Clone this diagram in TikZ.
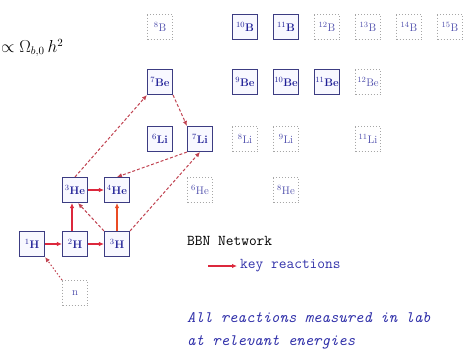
\documentclass[tikz,border=0pt]{standalone}
\usetikzlibrary{arrows.meta}
\definecolor{boxdraw}{RGB}{60,60,130}
\definecolor{boxtext}{RGB}{30,30,150}
\definecolor{txtblue}{RGB}{50,50,170}
\definecolor{keyred}{RGB}{220,40,60}
\definecolor{boxfill}{RGB}{248,248,255}
\begin{document}
\begin{tikzpicture}[x=1pt,y=-1pt,
  nuc/.style={draw=boxdraw,line width=1.1pt,fill=boxfill,minimum width=25pt,minimum height=25pt,inner sep=0pt,text=boxtext,font=\fontsize{11}{11}\selectfont\bfseries},
  unst/.style={draw=gray!70,dotted,line width=1pt,fill=white,minimum width=25pt,minimum height=25pt,inner sep=0pt,text=boxtext!80,font=\fontsize{11}{11}\selectfont},
  keyarr/.style={-{Latex[length=5pt,width=4.5pt]},draw=keyred,line width=1.4pt},
  longarr/.style={-{Latex[length=5pt,width=4.5pt]},draw=keyred!70!gray,line width=1pt,dash pattern=on 3pt off 2pt},
  legtxt/.style={anchor=west,inner sep=0pt,font=\ttfamily\fontsize{15}{15}\selectfont}
]
\useasboundingbox (0,0) rectangle (466,359);
% formula
\node[anchor=west,inner sep=0pt,font=\fontsize{16}{16}\selectfont] (form) at (1,48) {$\propto\Omega_{b,0}\,h^2$};
% Z=1
\node[nuc] (H1) at (32,244) {$^{1}$H};
\node[nuc] (H2) at (75,244) {$^{2}$H};
\node[nuc] (H3) at (117,244) {$^{3}$H};
\node[unst] (n) at (75,293) {n};
% Z=2
\node[nuc] (He3) at (75,190) {$^{3}$He};
\node[nuc] (He4) at (117,190) {$^{4}$He};
\node[unst] (He6) at (200,190) {$^{6}$He};
\node[unst] (He8) at (286,190) {$^{8}$He};
% Z=3
\node[nuc] (Li6) at (160,139) {$^{6}$Li};
\node[nuc] (Li7) at (200,139) {$^{7}$Li};
\node[unst] (Li8) at (245,139) {$^{8}$Li};
\node[unst] (Li9) at (286,139) {$^{9}$Li};
\node[unst] (Li11) at (368,139) {$^{11}$Li};
% Z=4
\node[nuc] (Be7) at (160,82) {$^{7}$Be};
\node[nuc] (Be9) at (245,82) {$^{9}$Be};
\node[nuc] (Be10) at (286,82) {$^{10}$Be};
\node[nuc] (Be11) at (327,82) {$^{11}$Be};
\node[unst] (Be12) at (368,82) {$^{12}$Be};
% Z=5
\node[unst] (B8) at (160,27) {$^{8}$B};
\node[nuc] (B10) at (245,27) {$^{10}$B};
\node[nuc] (B11) at (286,27) {$^{11}$B};
\node[unst] (B12) at (327,27) {$^{12}$B};
\node[unst] (B13) at (368,27) {$^{13}$B};
\node[unst] (B14) at (409,27) {$^{14}$B};
\node[unst] (B15) at (450,27) {$^{15}$B};
% key reactions
\draw[longarr,dash pattern=on 1.5pt off 2pt] (n.north west) -- (H1.south east);
\draw[keyarr] (H1) -- (H2);
\draw[keyarr] (H2) -- (H3);
\draw[keyarr] ([xshift=-3pt]H2.north) -- ([xshift=-3pt]He3.south);
\draw[keyarr] (He3) -- (He4);
\draw[keyarr,draw=keyred!60!orange] (H3) -- (He4);
\draw[longarr] (H3.north west) -- ([xshift=3pt]He3.south);
\draw[longarr] (He3.north) -- (Be7.south west);
\draw[longarr] (Be7.south east) -- (Li7.north west);
\draw[longarr] (H3.north east) -- (Li7.south);
\draw[longarr] (Li7.south west) -- (He4.north);
% legend
\node[legtxt] (bbn) at (187,241) {BBN Network};
\node[legtxt,text=txtblue] (key) at (240,266) {key reactions};
\coordinate (legs) at (208,266);
\draw[keyarr] (legs) -- ([xshift=-3pt]key.west);
\node[legtxt,text=txtblue,font=\ttfamily\itshape\fontsize{16}{16}\selectfont] (all) at (187,318) {All reactions measured in lab};
\node[legtxt,text=txtblue,font=\ttfamily\itshape\fontsize{16}{16}\selectfont] (rel) at (187,342) {at relevant energies};
\end{tikzpicture}
\end{document}
